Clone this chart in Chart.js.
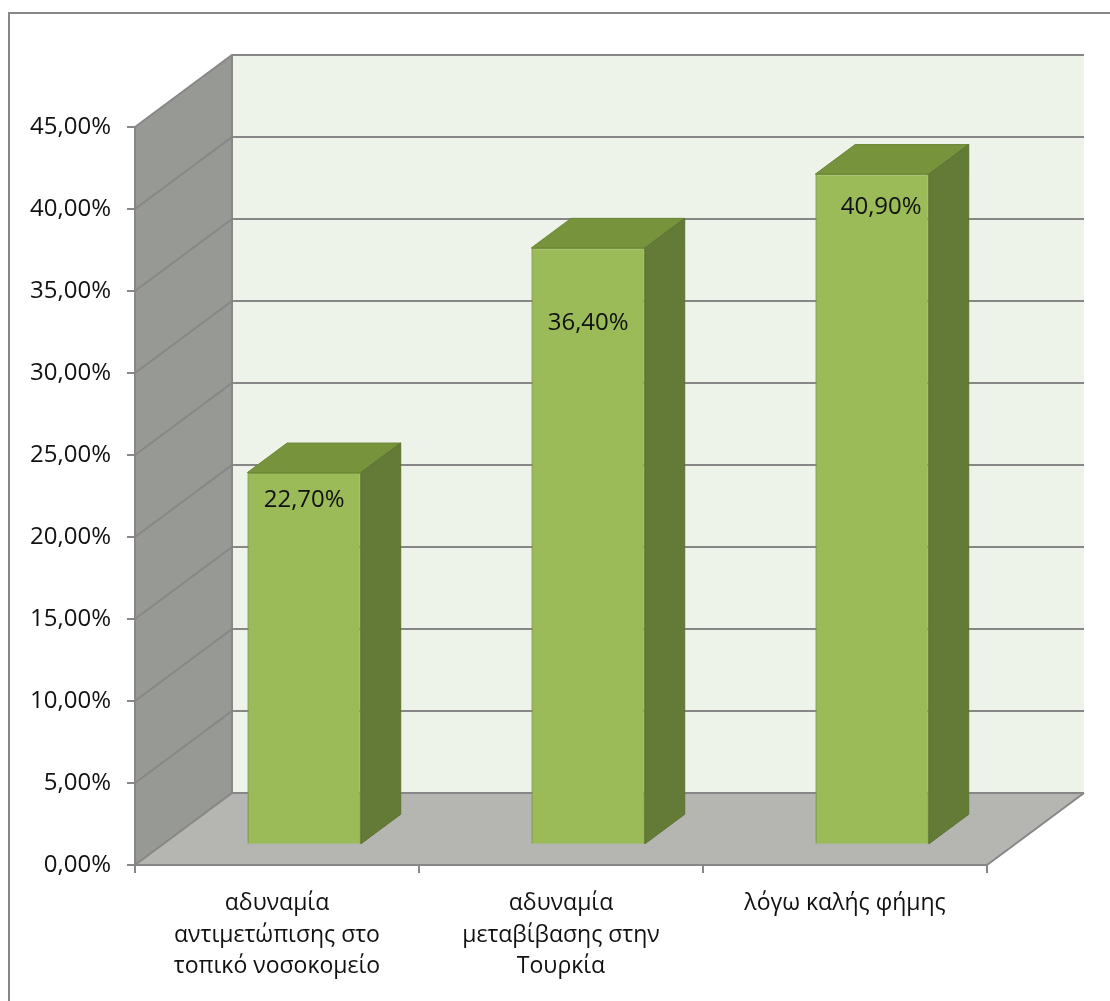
<!DOCTYPE html>
<html>
<head>
<meta charset="utf-8">
<script src="https://cdn.jsdelivr.net/npm/chart.js@4.4.1/dist/chart.umd.min.js"></script>
<style>
html, body { margin: 0; padding: 0; background: #fff; }
#wrap { width: 1110px; height: 1001px; }
</style>
</head>
<body>
<div id="wrap"><canvas id="chart" width="1110" height="1001"></canvas></div>
<script>
const categories = [
    ['αδυναμία', 'αντιμετώπισης στο', 'τοπικό νοσοκομείο'],
    ['αδυναμία', 'μεταβίβασης στην', 'Τουρκία'],
    'λόγω καλής φήμης'
];
const values = [22.7, 36.4, 40.9];
const yTickValues = [0, 5, 10, 15, 20, 25, 30, 35, 40, 45];

// value label placement inside each front face (px from the top edge)
const labelShiftY = [28, 75, 33];
const labelShiftX = [0, 0, 9];

// perspective offset from the front plane to the back wall
const DX = 97, DY = -72;
const BAR_FRONT = 0.28, BAR_BACK = 0.69;

const GRID = '#878787';

function pct(v) {
    return v.toFixed(2).replace('.', ',') + '%';
}

function poly(ctx, pts, fill, stroke) {
    ctx.beginPath();
    ctx.moveTo(pts[0][0], pts[0][1]);
    for (let i = 1; i < pts.length; i++) ctx.lineTo(pts[i][0], pts[i][1]);
    ctx.closePath();
    if (fill) { ctx.fillStyle = fill; ctx.fill(); }
    if (stroke) { ctx.strokeStyle = stroke; ctx.lineWidth = 1; ctx.stroke(); }
}

const scene3d = {
    id: 'scene3d',
    beforeDraw(chart) {
        const ctx = chart.ctx;
        const a = chart.chartArea;
        const y = chart.scales.y;
        const L = a.left, R = a.right, T = a.top, B = a.bottom;
        ctx.save();
        ctx.fillStyle = '#fff';
        ctx.fillRect(0, 0, chart.width, chart.height);

        // outer frame
        ctx.strokeStyle = GRID;
        ctx.lineWidth = 2;
        ctx.strokeRect(9, 13, chart.width + 20, chart.height + 20);

        // back wall, side wall, floor
        poly(ctx, [[L + DX, T + DY], [R + DX, T + DY], [R + DX, B + DY], [L + DX, B + DY]], '#eef3e9');
        poly(ctx, [[L, T], [L + DX, T + DY], [L + DX, B + DY], [L, B]], '#979995');
        poly(ctx, [[L, B], [L + DX, B + DY], [R + DX, B + DY], [R, B]], '#b5b6b2');

        ctx.strokeStyle = GRID;
        ctx.lineWidth = 2;
        y.ticks.forEach(t => {
            const py = y.getPixelForValue(t.value);
            ctx.beginPath();
            ctx.moveTo(L, py);
            ctx.lineTo(L + DX, py + DY);
            ctx.lineTo(R + DX, py + DY);
            ctx.stroke();
        });
        ctx.beginPath();
        ctx.moveTo(L + DX, T + DY);
        ctx.lineTo(L + DX, B + DY);
        ctx.moveTo(R, B);
        ctx.lineTo(R + DX, B + DY);
        ctx.stroke();
        ctx.restore();
    },
    beforeDatasetsDraw(chart) {
        chart.ctx.save();
        chart.ctx.translate(DX * BAR_FRONT, DY * BAR_FRONT);
    },
    afterDatasetsDraw(chart) {
        const ctx = chart.ctx;
        ctx.restore();
        const fx = DX * BAR_FRONT, fy = DY * BAR_FRONT;
        const bx = DX * (BAR_BACK - BAR_FRONT), by = DY * (BAR_BACK - BAR_FRONT);
        const meta = chart.getDatasetMeta(0);
        ctx.save();
        meta.data.forEach((bar, i) => {
            const p = bar.getProps(['x', 'y', 'base', 'width'], true);
            const x0 = p.x - p.width / 2 + fx, x1 = p.x + p.width / 2 + fx;
            const yt = p.y + fy, yb = p.base + fy;
            poly(ctx, [[x0, yt], [x1, yt], [x1 + bx, yt + by], [x0 + bx, yt + by]], '#77933c', '#6b8735');
            poly(ctx, [[x1, yt], [x1 + bx, yt + by], [x1 + bx, yb + by], [x1, yb]], '#647a37', '#5d7233');

            ctx.fillStyle = '#111';
            ctx.font = "24px 'Open Sans', sans-serif";
            ctx.textAlign = 'center';
            ctx.textBaseline = 'middle';
            ctx.fillText(pct(values[i]), p.x + fx + labelShiftX[i], yt + labelShiftY[i]);
        });
        ctx.restore();
    }
};

Chart.defaults.font.family = "'Open Sans', sans-serif";
Chart.defaults.color = '#111';

new Chart(document.getElementById('chart'), {
    type: 'bar',
    data: {
        labels: categories,
        datasets: [{
            data: values,
            backgroundColor: '#9bbb59',
            borderColor: '#7e9e42',
            borderWidth: 1.5,
            barPercentage: 0.4,
            categoryPercentage: 1
        }]
    },
    options: {
        responsive: false,
        animation: false,
        devicePixelRatio: 1,
        layout: { padding: { left: 0, right: 123, top: 127, bottom: 0 } },
        plugins: {
            legend: { display: false },
            tooltip: { enabled: false }
        },
        scales: {
            x: {
                grid: { drawOnChartArea: false, drawTicks: true, tickLength: 8, color: GRID, lineWidth: 2 },
                border: { color: GRID, width: 2 },
                ticks: {
                    font: { size: 23, lineHeight: 1.37 },
                    padding: 15,
                    autoSkip: false,
                    maxRotation: 0
                },
                afterFit: s => { s.height = 136; }
            },
            y: {
                min: 0,
                max: 45,
                grid: { drawOnChartArea: false, drawTicks: true, tickLength: 8, color: GRID, lineWidth: 2 },
                border: { color: GRID, width: 2 },
                afterBuildTicks: s => { s.ticks = yTickValues.map(v => ({ value: v })); },
                ticks: {
                    font: { size: 24 },
                    padding: 16,
                    callback: v => pct(v)
                },
                afterFit: s => { s.width = 135; }
            }
        }
    },
    plugins: [scene3d]
});
</script>
</body>
</html>
